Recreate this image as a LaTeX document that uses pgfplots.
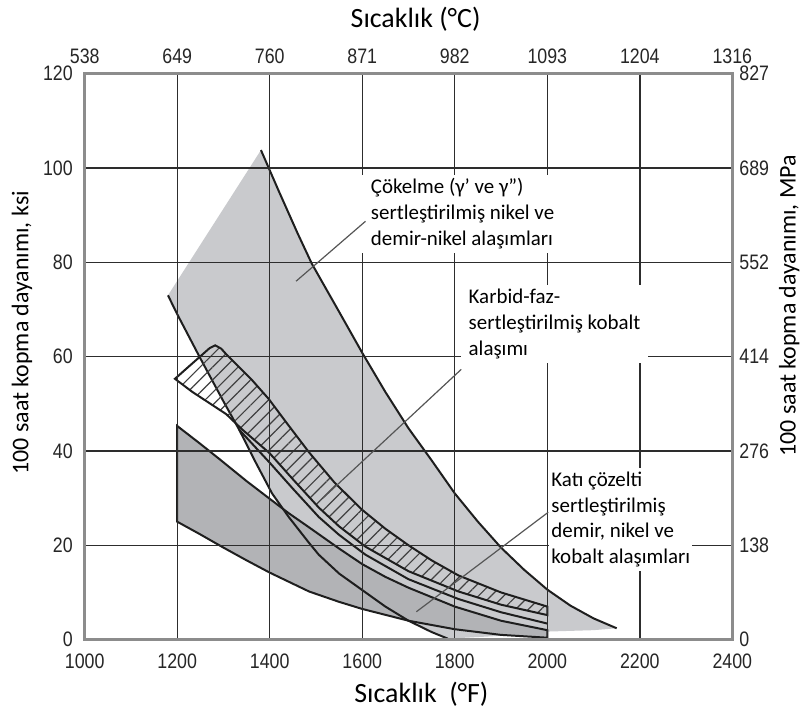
\documentclass[border=0pt]{standalone}
\usepackage{pgfplots}
\pgfplotsset{compat=1.18}
\usepackage{fontspec}
\setmainfont{Carlito}
\newfontfamily\tickfont[FakeStretch=0.85]{Liberation Sans}
\usetikzlibrary{patterns.meta}
\definecolor{precip}{RGB}{201,202,205}
\definecolor{solid}{RGB}{178,179,182}
\definecolor{gridc}{RGB}{45,45,45}
\definecolor{framec}{RGB}{140,140,140}
\definecolor{curvec}{RGB}{30,30,30}
\definecolor{leaderc}{RGB}{85,85,85}

\begin{document}
\begin{tikzpicture}
\pgfplotsset{
  common/.style={
    scale only axis, width=325pt, height=284pt,
    xmin=1000, xmax=2400, ymin=0, ymax=120,
    xtick={1000,1200,...,2400}, ytick={0,20,...,120},
    tick style={draw=none},
    ticklabel style={font=\tickfont\fontsize{10.5}{12}\selectfont, text=black!85},
  }
}
\begin{axis}[
  common,
  xticklabels={1000,1200,1400,1600,1800,2000,2200,2400},
  yticklabels={0,20,40,60,80,100,120},
  xticklabel shift=3.5pt, yticklabel shift=2.5pt,
  grid=major, major grid style={gridc, line width=0.7pt},
  axis line style={framec, line width=1.3pt},
  axis on top, clip=false,
]
% bounding frame of the whole picture
\path (rel axis cs:-0.1308,-0.1408) rectangle (rel axis cs:1.1092,1.1268);

% Precipitation-hardened band (light gray)
\addplot[fill=precip, draw=none] coordinates {
(1180,73) (1381,103.8) (1420,95) (1460,86.2) (1491,79.7) (1550,69.5) (1600,60.8)
(1650,52.5) (1700,44.8) (1750,38) (1800,31) (1850,25) (1900,19.5) (1950,14.8)
(2000,10.6) (2050,7.2) (2100,4.5) (2150,2.4) (2100,2.0) (2000,1.7) (1900,0.8) (1785,0.2)
(1750,1.6) (1700,4) (1650,7) (1600,10.5) (1550,14) (1506,18) (1485,20.5)
(1441,26) (1405,31) (1370,37.5) (1334,44.5) (1300,50.5) (1248,60) (1200,69) (1180,73)
} -- cycle;

% Solid-solution band (darker gray)
\addplot[fill=solid, draw=curvec, line width=1pt] coordinates {
(1200,45.3) (1250,41.5) (1291,38.3) (1350,33.6) (1398,30) (1441,26.8) (1485,23.8)
(1550,19.3) (1600,16) (1650,13.3) (1700,11) (1800,7) (1900,4) (2000,2)
(2000,0.4) (1900,1) (1800,2.2) (1700,4) (1600,6.5) (1550,8) (1485,10.2)
(1400,14.2) (1350,16.8) (1300,19.5) (1250,22.3) (1200,25)
} -- cycle;

% Upper boundary of precipitation band
\addplot[curvec, line width=1pt] coordinates {
(1381,103.8) (1420,95) (1460,86.2) (1491,79.7) (1550,69.5) (1600,60.8)
(1650,52.5) (1700,44.8) (1750,38) (1800,31) (1850,25) (1900,19.5) (1950,14.8)
(2000,10.6) (2050,7.2) (2100,4.5) (2150,2.4)
};
% Lower (steep) boundary of precipitation band
\addplot[curvec, line width=1pt] coordinates {
(1180,73) (1200,69) (1248,60) (1300,50.5) (1334,44.5) (1370,37.5) (1405,31)
(1441,26) (1485,20.5) (1506,18) (1550,14) (1600,10.5) (1650,7) (1700,4)
(1750,1.6) (1785,0.2)
};
% Line below the hatched band
\addplot[curvec, line width=1pt] coordinates {
(1334,44.5) (1400,37.5) (1450,32) (1506,26) (1550,22.2) (1607,18) (1700,12.8)
(1808,8.6) (1900,5.8) (2000,3.4)
};

% Carbide-phase-strengthened cobalt band (hatched)
\addplot[pattern={Lines[angle=45,distance=4.5pt,line width=0.6pt]}, pattern color=black!75,
  draw=curvec, line width=1pt] coordinates {
(1195,55.3) (1270,61.8) (1282,62.4) (1295,61.7) (1306,60.5) (1362,55) (1398,51)
(1440,45.5) (1485,39.7) (1540,33.3) (1600,27.5) (1650,23.5) (1700,20) (1750,16.8)
(1808,13.6) (1900,10) (2000,7)
(2000,5.2) (1900,7.4) (1808,10.2) (1700,14.5) (1607,19.7) (1550,24) (1506,28)
(1450,34) (1400,39.5) (1340,44.6) (1306,47.8) (1233,52.5)
} -- cycle;

\coordinate (t1) at (axis cs:1592,98.7);
\coordinate (t2) at (axis cs:1812,75.2);
\coordinate (t3) at (axis cs:2003.7,36.55);
\coordinate (l1a) at (axis cs:1607,88.7);
\coordinate (l1b) at (axis cs:1457,76);
\coordinate (l2a) at (axis cs:1814,57.3);
\coordinate (l2b) at (axis cs:1515,30);
\coordinate (l3a) at (axis cs:2002,27);
\coordinate (l3b) at (axis cs:1717,5.9);

\node[font=\fontsize{14}{16}\selectfont] at (rel axis cs:0.52,-0.0968) {Sıcaklık\hspace{0.45em}(°F)};
\node[font=\fontsize{14}{16}\selectfont] at (rel axis cs:0.511,1.097) {Sıcaklık (°C)};
\node[rotate=90, font=\fontsize{12}{14}\selectfont] at (rel axis cs:-0.0969,0.542) {100 saat kopma dayanımı, ksi};
\node[rotate=90, font=\fontsize{12}{14}\selectfont] at (rel axis cs:1.0877,0.59) {100 saat kopma dayanımı, MPa};
\end{axis}

\begin{axis}[
  common,
  axis x line*=top, axis y line*=right,
  axis line style={draw=none},
  xticklabels={538,649,760,871,982,1093,1204,1316},
  yticklabels={0,138,276,414,552,689,827},
  xticklabel shift=1.5pt,
]
\addplot[draw=none] coordinates {(1000,0)};
\end{axis}

\node[anchor=north west, fill=white, inner xsep=6pt, inner ysep=2pt, align=left,
  font=\fontsize{10.5}{13}\selectfont] at (t1)
  {Çökelme (γ’ ve γ”)\\sertleştirilmiş nikel ve\\demir-nikel alaşımları};
\node[anchor=north west, fill=white, inner xsep=4pt, inner ysep=2pt, align=left,
  font=\fontsize{10.5}{13}\selectfont] at (t2)
  {Karbid-faz-\\sertleştirilmiş kobalt\\alaşımı};
\node[anchor=north west, fill=white, inner xsep=1pt, inner ysep=2pt, align=left,
  font=\fontsize{10.5}{13}\selectfont] at (t3)
  {Katı çözelti\\sertleştirilmiş\\demir, nikel ve\\kobalt alaşımları};

\draw[leaderc, line width=0.6pt] (l1a) -- (l1b);
\draw[leaderc, line width=0.6pt] (l2a) -- (l2b);
\draw[leaderc, line width=0.6pt] (l3a) -- (l3b);
\end{tikzpicture}
\end{document}
